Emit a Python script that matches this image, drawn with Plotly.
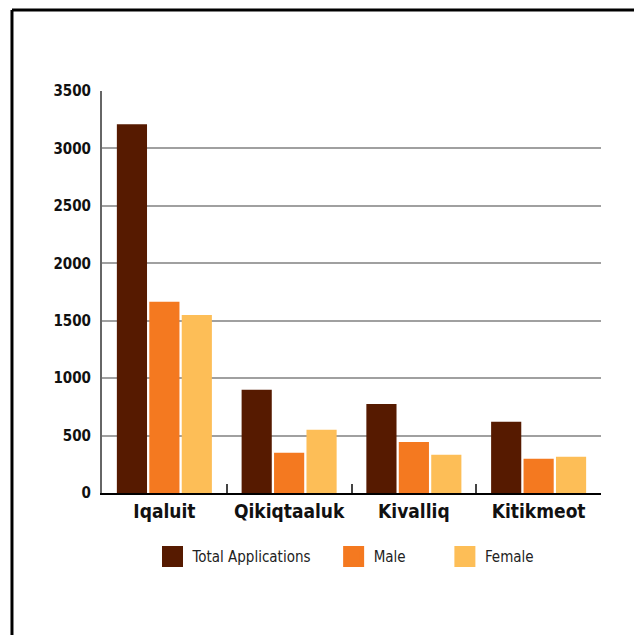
import plotly.graph_objects as go

categories = ["Iqaluit", "Qikiqtaaluk", "Kivalliq", "Kitikmeot"]
series_names = ["Total Applications", "Male", "Female"]
total_values = [3210, 900, 775, 620]
male_values = [1665, 350, 445, 298]
female_values = [1550, 550, 332, 315]
colors = ["#561A00", "#F47920", "#FDBE57"]
y_ticks = [0, 500, 1000, 1500, 2000, 2500, 3000, 3500]
legend_pad = [4, 8, 0]  # extra spacing after legend labels

FONT = "DejaVu Sans Condensed, Liberation Sans Narrow, sans-serif"

fig = go.Figure()
for name, vals, col, pad in zip(series_names, [total_values, male_values, female_values], colors, legend_pad):
    fig.add_trace(go.Bar(x=categories, y=vals, name=name, marker=dict(color=col, line=dict(width=0)),
                         showlegend=False))
    # legend proxies with larger square swatches
    fig.add_trace(go.Scatter(x=[None], y=[None], mode="markers", name=name + "\u00a0" * pad,
                             hoverinfo="skip",
                             marker=dict(symbol="square", size=16, color=col, line=dict(color=col, width=5))))

fig.update_layout(
    width=634, height=627,
    margin=dict(l=94, r=41, t=83, b=142),
    paper_bgcolor="white", plot_bgcolor="white",
    barmode="group", bargap=0.22, bargroupgap=0.07,
    font=dict(family=FONT, color="#1a1a1a"),
    legend=dict(orientation="h", x=0.489, xanchor="center", y=-0.1176, yanchor="top",
                font=dict(family=FONT, size=15, color="#222"), itemsizing="trace"),
    xaxis=dict(type="category", showline=True, linecolor="#000", linewidth=2,
               ticks="inside", tickson="boundaries", ticklen=9, tickwidth=2, tickcolor="#444",
               tickfont=dict(family=FONT, size=19, color="#111", weight="bold"), showgrid=False),
    yaxis=dict(range=[0, 3500], tickvals=y_ticks, showline=True, linecolor="#666", linewidth=2,
               showgrid=True, gridcolor="#a0a0a0", gridwidth=1.5, zeroline=False, ticks="",
               tickfont=dict(family=FONT, size=15, color="#111", weight="bold"), ticklabelstandoff=6),
    shapes=[
        dict(type="line", xref="paper", yref="paper", x0=-0.1804, x1=1.2, y0=1.2015, y1=1.2015,
             line=dict(color="#000", width=3)),
        dict(type="line", xref="paper", yref="paper", x0=-0.1804, x1=-0.1804, y0=1.2015, y1=-0.4,
             line=dict(color="#000", width=3)),
    ],
)

fig.write_html("out.html")
